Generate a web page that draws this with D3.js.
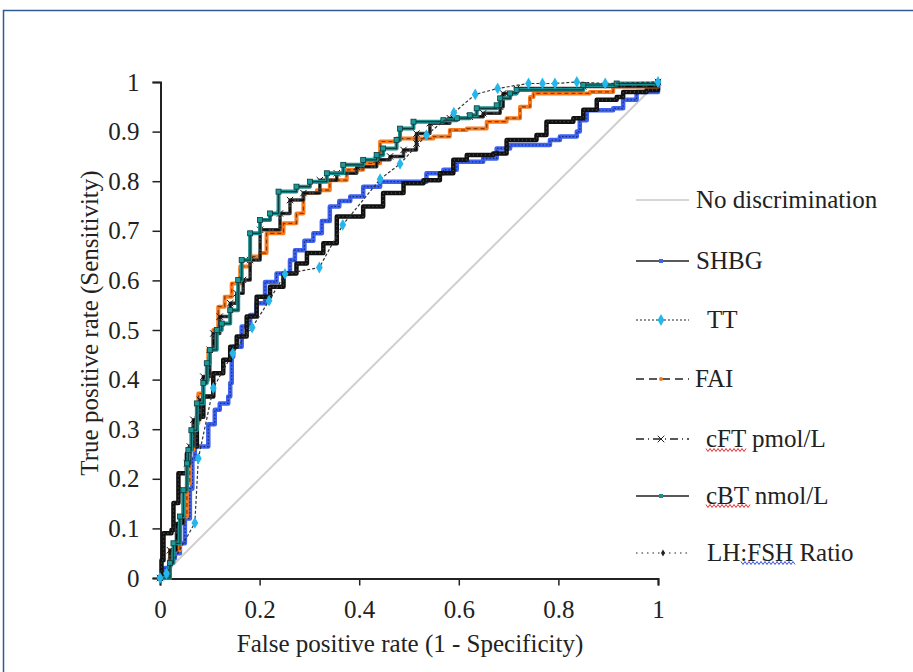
<!DOCTYPE html>
<html>
<head>
<meta charset="utf-8">
<script src="https://cdn.jsdelivr.net/npm/d3@7"></script>
<style>
  body { margin: 0; background: #fff; }
</style>
</head>
<body>
<div id="chart"></div>
<script>
// ROC curves, [false positive rate, true positive rate]
var shbg = [[0,0],[0.01,0.02],[0.02,0.04],[0.03,0.05],[0.04,0.07],[0.05,0.12],[0.06,0.18],[0.065,0.24],[0.07,0.265],[0.094,0.265],
  [0.097,0.31],[0.11,0.339],[0.12,0.352],[0.137,0.366],[0.141,0.393],[0.144,0.446],[0.147,0.466],[0.164,0.507],[0.181,0.53],[0.194,0.554],
  [0.211,0.597],[0.234,0.614],[0.261,0.641],[0.271,0.661],[0.29,0.68],[0.308,0.695],[0.325,0.72],[0.341,0.749],[0.36,0.76],[0.382,0.769],
  [0.408,0.789],[0.442,0.799],[0.502,0.799],[0.535,0.816],[0.569,0.823],[0.596,0.839],[0.649,0.846],[0.676,0.866],[0.703,0.873],[0.783,0.883],
  [0.803,0.89],[0.837,0.9],[0.843,0.923],[0.857,0.943],[0.91,0.947],[0.93,0.964],[0.957,0.98],[1,1]];

var tt = [[0,0],[0.013,0.009],[0.07,0.111],[0.077,0.241],[0.107,0.383],[0.146,0.453],[0.185,0.505],[0.219,0.559],[0.251,0.613],[0.32,0.626],
  [0.367,0.712],[0.442,0.804],[0.482,0.835],[0.535,0.893],[0.59,0.938],[0.633,0.975],[0.678,0.987],[0.74,0.997],[0.768,0.997],[0.793,0.997],
  [0.837,1],[0.894,0.997],[1,1]];

var fai = [[0,0],[0.02,0.056],[0.04,0.124],[0.054,0.191],[0.06,0.258],[0.067,0.312],[0.077,0.372],[0.087,0.399],[0.097,0.46],[0.107,0.5],
  [0.117,0.547],[0.13,0.567],[0.144,0.594],[0.161,0.628],[0.181,0.648],[0.201,0.655],[0.214,0.695],[0.248,0.715],[0.274,0.735],[0.288,0.776],
  [0.315,0.782],[0.341,0.802],[0.375,0.823],[0.408,0.836],[0.442,0.863],[0.442,0.88],[0.475,0.886],[0.549,0.89],[0.582,0.903],[0.616,0.906],
  [0.656,0.92],[0.696,0.927],[0.723,0.95],[0.743,0.97],[0.75,0.977],[0.863,0.98],[0.91,0.991],[1,1]];

var cft = [[0,0],[0.02,0.056],[0.033,0.11],[0.047,0.177],[0.054,0.231],[0.06,0.265],[0.067,0.319],[0.08,0.359],[0.087,0.406],[0.1,0.46],
  [0.107,0.493],[0.12,0.527],[0.141,0.554],[0.154,0.574],[0.167,0.601],[0.181,0.641],[0.201,0.702],[0.241,0.735],[0.261,0.762],[0.288,0.776],
  [0.321,0.802],[0.355,0.816],[0.395,0.829],[0.435,0.843],[0.462,0.85],[0.489,0.863],[0.515,0.876],[0.515,0.896],[0.542,0.917],[0.582,0.927],
  [0.622,0.93],[0.649,0.937],[0.683,0.95],[0.689,0.977],[0.716,0.987],[0.85,0.991],[1,1]];

var cbt = [[0,0],[0.02,0.03],[0.027,0.07],[0.04,0.124],[0.047,0.177],[0.054,0.231],[0.057,0.258],[0.063,0.298],[0.074,0.352],[0.087,0.393],
  [0.094,0.433],[0.1,0.46],[0.114,0.5],[0.124,0.513],[0.141,0.54],[0.157,0.601],[0.164,0.641],[0.181,0.695],[0.201,0.722],[0.221,0.735],
  [0.238,0.779],[0.274,0.789],[0.301,0.799],[0.335,0.816],[0.368,0.833],[0.408,0.843],[0.435,0.853],[0.448,0.866],[0.475,0.883],[0.482,0.906],
  [0.509,0.92],[0.569,0.923],[0.596,0.927],[0.622,0.933],[0.636,0.947],[0.676,0.953],[0.683,0.967],[0.703,0.977],[0.716,0.984],[0.85,0.994],
  [0.917,0.997],[1,1]];

var lhfsh = [[0,0],[0.003,0.036],[0.007,0.09],[0.023,0.097],[0.027,0.151],[0.037,0.211],[0.047,0.211],[0.054,0.251],[0.06,0.265],[0.074,0.325],
  [0.087,0.366],[0.107,0.413],[0.127,0.44],[0.141,0.466],[0.154,0.487],[0.174,0.527],[0.194,0.567],[0.221,0.587],[0.248,0.614],[0.274,0.634],
  [0.295,0.655],[0.328,0.675],[0.355,0.729],[0.408,0.749],[0.448,0.776],[0.489,0.796],[0.529,0.802],[0.562,0.816],[0.589,0.843],[0.616,0.853],
  [0.669,0.856],[0.696,0.883],[0.756,0.893],[0.776,0.92],[0.83,0.927],[0.85,0.944],[0.877,0.964],[0.917,0.97],[0.93,0.98],[0.977,0.984],[1,1]];

var noDisc = [[0,0],[1,1]];

var yTicks = [0, 0.1, 0.2, 0.3, 0.4, 0.5, 0.6, 0.7, 0.8, 0.9, 1];
var xTicks = [0, 0.2, 0.4, 0.6, 0.8, 1];
var legendNames = ["No discrimination", "SHBG", "TT", "FAI", "cFT pmol/L", "cBT nmol/L", "LH:FSH Ratio"];

var width = 913, height = 672;
var serif = "Liberation Serif";

var svg = d3.select("#chart")
    .append("svg")
    .attr("width", width)
    .attr("height", height)
    .attr("font-family", serif);

// frame (only top and left edges show)
svg.append("rect")
    .attr("x", 3.5).attr("y", 10.5)
    .attr("width", 1000).attr("height", 1000)
    .attr("fill", "none")
    .attr("stroke", "#2f5a96")
    .attr("stroke-width", 1.5);

var x = d3.scaleLinear().domain([0, 1]).range([160, 658]);
var y = d3.scaleLinear().domain([0, 1]).range([578, 82]);

// axes
svg.append("g")
    .attr("transform", "translate(160.5,0)")
    .call(d3.axisLeft(y).tickValues(yTicks).tickSize(8).tickPadding(13).tickFormat(d3.format("")))
    .attr("font-family", serif).attr("font-size", 25);
svg.append("g")
    .attr("transform", "translate(0,578.5)")
    .call(d3.axisBottom(x).tickValues(xTicks).tickSize(7).tickPadding(15).tickFormat(d3.format("")))
    .attr("font-family", serif).attr("font-size", 25);

svg.selectAll(".domain").attr("stroke", "#222").attr("stroke-width", 2);
svg.selectAll(".tick line").attr("stroke", "#222").attr("stroke-width", 1.5);
svg.selectAll(".tick text").attr("fill", "#222");

svg.append("text")
    .attr("x", 410).attr("y", 652)
    .attr("text-anchor", "middle")
    .attr("font-size", 25)
    .attr("fill", "#222")
    .text("False positive rate (1 - Specificity)");

svg.append("text")
    .attr("transform", "translate(98,323) rotate(-90)")
    .attr("text-anchor", "middle")
    .attr("font-size", 25)
    .attr("fill", "#222")
    .text("True positive rate (Sensitivity)");

var plot = svg.append("g");

var linear = d3.line().x(d => x(d[0])).y(d => y(d[1]));
var step = d3.line().x(d => x(d[0])).y(d => y(d[1])).curve(d3.curveStepAfter);

// no discrimination
plot.append("path")
    .datum(noDisc)
    .attr("d", linear)
    .attr("fill", "none")
    .attr("stroke", "#cfcfcf")
    .attr("stroke-width", 2);

function bandCurve(data, bandColor, bandWidth, lineColor, dash) {
    plot.append("path")
        .datum(data)
        .attr("d", step)
        .attr("fill", "none")
        .attr("stroke", bandColor)
        .attr("stroke-width", bandWidth)
        .attr("stroke-linejoin", "round");
    plot.append("path")
        .datum(data)
        .attr("d", step)
        .attr("fill", "none")
        .attr("stroke", lineColor)
        .attr("stroke-width", 1.2)
        .attr("stroke-dasharray", dash);
}

// SHBG
bandCurve(shbg, "#3d63f0", 4.5, "#1a2a7a", "1.5,2");
// LH:FSH
bandCurve(lhfsh, "#111", 4.5, "#555", "1,3");
// FAI
bandCurve(fai, "#fb7a1c", 4, "#8a3a00", "4,3");
// cFT
bandCurve(cft, "#3a3a3a", 3.5, "#000", "6,2,1,2");
plot.append("g").selectAll("path")
    .data(cft).join("path")
    .attr("d", d3.symbol(d3.symbolX, 28))
    .attr("transform", d => "translate(" + x(d[0]) + "," + y(d[1]) + ")")
    .attr("stroke", "#111")
    .attr("stroke-width", 1)
    .attr("fill", "none");
// cBT
bandCurve(cbt, "#1a8f8f", 4, "#0d3e3e", null);
plot.append("g").selectAll("rect")
    .data(cbt).join("rect")
    .attr("x", d => x(d[0]) - 2.5)
    .attr("y", d => y(d[1]) - 2.5)
    .attr("width", 5).attr("height", 5)
    .attr("fill", "#1a9a9a")
    .attr("stroke", "#0b3b3b")
    .attr("stroke-width", 0.8);

// TT
plot.append("path")
    .datum(tt)
    .attr("d", linear)
    .attr("fill", "none")
    .attr("stroke", "#333")
    .attr("stroke-width", 1.2)
    .attr("stroke-dasharray", "3,2");
plot.append("g").selectAll("path")
    .data(tt).join("path")
    .attr("d", d3.symbol(d3.symbolDiamond, 40))
    .attr("transform", d => "translate(" + x(d[0]) + "," + y(d[1]) + ")")
    .attr("fill", "#25b7ec");

// legend
var legendRows = [200, 261, 320, 379, 439, 496, 553];
var textX = [696, 696, 707, 695, 706, 706, 707];
var lg = svg.append("g");

function legendLine(i, color, w, dash) {
    lg.append("line")
        .attr("x1", 636).attr("x2", 689)
        .attr("y1", legendRows[i]).attr("y2", legendRows[i])
        .attr("stroke", color)
        .attr("stroke-width", w)
        .attr("stroke-dasharray", dash);
}
legendLine(0, "#c8c8c8", 1.5, null);
legendLine(1, "#222", 1.5, null);
lg.append("rect").attr("x", 659).attr("y", 259).attr("width", 4).attr("height", 4).attr("fill", "#3d63f0");
legendLine(2, "#222", 1.2, "2,2");
lg.append("path").attr("d", d3.symbol(d3.symbolDiamond, 40)).attr("transform", "translate(661,320)").attr("fill", "#25b7ec");
legendLine(3, "#222", 1.5, "8,5");
lg.append("circle").attr("cx", 661).attr("cy", 379).attr("r", 2).attr("fill", "#f07a1c");
legendLine(4, "#222", 1.5, "8,4,1,4");
lg.append("path").attr("d", d3.symbol(d3.symbolX, 30)).attr("transform", "translate(661,439)").attr("stroke", "#222").attr("fill", "none");
legendLine(5, "#222", 1.5, null);
lg.append("rect").attr("x", 659).attr("y", 494).attr("width", 4).attr("height", 4).attr("fill", "#1a8f8f");
legendLine(6, "#222", 1.2, "1.5,4");
lg.append("path").attr("d", d3.symbol(d3.symbolDiamond, 14)).attr("transform", "translate(663,553)").attr("fill", "#222");

lg.selectAll("text.lab")
    .data(legendNames).join("text")
    .attr("class", "lab")
    .attr("x", (d, i) => textX[i])
    .attr("y", (d, i) => legendRows[i] + 8)
    .attr("font-size", 25)
    .attr("fill", "#222")
    .text(d => d);

// spell-check squiggles under words
function squiggle(x0, x1, yy, color) {
    var pts = [];
    for (var px = x0, k = 0; px <= x1; px += 2, k++) pts.push([px, yy + (k % 2 ? 1.5 : -1.5)]);
    lg.append("path").attr("d", d3.line()(pts)).attr("fill", "none").attr("stroke", color).attr("stroke-width", 1);
}
squiggle(706, 747, 450, "#e03030");
squiggle(706, 751, 506, "#e03030");
squiggle(741, 796, 563, "#3050e0");
</script>
</body>
</html>
